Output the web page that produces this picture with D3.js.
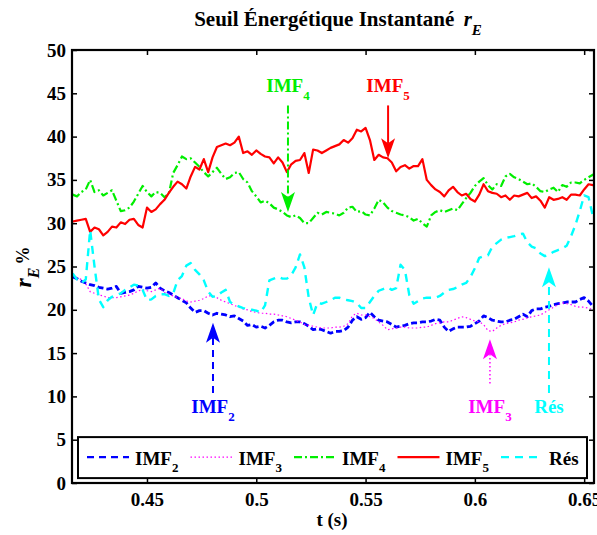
<!DOCTYPE html>
<html>
<head>
<meta charset="utf-8">
<script src="https://cdn.jsdelivr.net/npm/d3@7"></script>
<style>
  body { margin: 0; background: #fff; }
  svg { display: block; }
  text { font-family: "Liberation Serif", "Times New Roman", serif; font-weight: bold; }
</style>
</head>
<body>
<div id="chart"></div>
<script>
// Sampling instants (s)
const time = [
  0.416,0.418,0.42,0.422,0.424,0.426,0.428,0.43,0.432,0.434,
  0.436,0.438,0.44,0.442,0.444,0.446,0.448,0.45,0.452,0.454,
  0.456,0.458,0.46,0.462,0.464,0.466,0.468,0.47,0.472,0.474,
  0.476,0.478,0.48,0.482,0.484,0.486,0.488,0.49,0.492,0.494,
  0.496,0.498,0.5,0.502,0.504,0.506,0.508,0.51,0.512,0.514,
  0.516,0.518,0.52,0.522,0.524,0.526,0.528,0.53,0.532,0.534,
  0.536,0.538,0.54,0.542,0.544,0.546,0.548,0.55,0.552,0.554,
  0.556,0.558,0.56,0.562,0.564,0.566,0.568,0.57,0.572,0.574,
  0.576,0.578,0.58,0.582,0.584,0.586,0.588,0.59,0.592,0.594,
  0.596,0.598,0.6,0.602,0.604,0.606,0.608,0.61,0.612,0.614,
  0.616,0.618,0.62,0.622,0.624,0.626,0.628,0.63,0.632,0.634,
  0.636,0.638,0.64,0.642,0.644,0.646,0.648,0.65,0.652,0.654,
  0.656
];

// Instantaneous energy ratio r_E (%) per component
const imf2 = [
  23.8,23.6,23.3,23.1,22.9,22.8,22.6,22.5,22.4,22.5,
  22.7,21.9,22.0,22.1,22.3,22.7,22.6,22.5,22.6,23.1,
  22.5,22.2,22.0,21.7,21.4,21.1,20.8,20.2,19.7,19.9,
  19.9,19.6,19.4,19.6,19.5,19.4,19.2,19.3,19.0,18.7,
  18.2,18.3,18.0,18.1,17.9,18.2,18.6,18.8,18.8,18.6,
  18.5,18.6,18.6,18.4,18.1,17.7,17.8,17.7,17.5,17.3,
  17.5,17.5,17.6,18.0,18.8,19.2,18.9,19.1,19.7,19.2,
  18.8,18.7,18.6,18.3,18.0,18.1,18.2,18.4,18.5,18.5,
  18.6,18.6,18.7,18.9,18.8,18.0,17.5,17.8,18.0,18.0,
  18.0,18.1,18.4,18.7,19.3,19.1,18.8,18.7,18.6,18.6,
  18.8,18.9,19.2,19.5,19.2,19.9,20.1,20.1,20.3,20.4,
  20.6,20.7,20.8,20.9,20.9,20.9,21.2,21.4,21.0,20.4,
  20.3
];
const imf3 = [
  24.0,23.7,23.5,23.0,22.1,21.9,21.7,21.6,21.4,21.4,
  21.4,21.5,21.6,21.7,21.9,22.2,22.3,22.2,22.1,22.3,
  22.5,22.0,21.8,21.6,21.4,21.3,21.0,20.9,21.0,21.1,
  21.3,21.6,21.6,21.4,21.1,20.9,20.7,20.5,20.3,20.1,
  20.0,19.8,19.7,19.6,19.6,19.5,19.5,19.4,19.3,19.2,
  19.0,18.8,18.6,18.3,18.2,18.1,18.0,17.9,17.9,17.9,
  18.0,18.0,18.1,18.4,19.3,19.6,19.4,19.4,19.2,19.0,
  18.6,18.2,17.7,17.8,17.9,18.0,18.0,17.9,17.9,17.9,
  18.0,18.0,18.2,18.4,18.5,18.6,18.6,18.8,19.0,19.2,
  19.1,18.9,18.7,18.6,18.3,17.6,17.5,17.9,18.2,18.4,
  18.5,18.6,18.8,18.9,19.1,19.2,19.3,19.4,19.7,20.0,
  20.3,20.6,20.8,20.7,20.6,20.4,20.3,20.3,20.2,20.0,
  20.0
];
const imf4 = [
  33.3,33.1,33.6,33.9,35.0,33.6,33.8,33.2,33.5,33.8,
  32.6,31.4,31.5,31.8,32.5,33.4,34.3,33.6,33.1,33.6,
  33.5,33.0,33.4,35.8,36.7,37.7,37.4,37.5,37.0,36.5,
  35.9,35.4,35.9,36.4,35.7,35.1,35.3,35.8,35.9,35.1,
  34.7,33.7,33.1,32.4,32.6,32.3,31.8,31.6,31.3,30.9,
  30.7,30.9,30.6,30.0,30.0,30.6,31.2,31.0,31.3,31.2,
  31.1,30.9,31.2,31.8,31.9,31.3,31.4,31.0,30.9,31.7,
  32.7,32.4,31.8,31.4,31.2,31.0,30.9,30.7,30.3,30.5,
  30.0,29.6,30.9,31.3,31.5,31.3,31.5,31.7,31.5,32.2,
  32.9,33.5,34.3,34.8,35.2,34.4,33.9,34.5,34.3,35.4,
  35.7,35.3,35.1,34.8,34.5,34.6,34.2,33.7,33.6,33.9,
  34.1,33.6,34.4,34.2,34.7,34.7,34.6,35.0,35.3,35.6,
  35.6
];
const imf5 = [
  30.2,30.3,30.4,30.5,29.0,29.5,29.3,28.6,29.0,29.6,
  29.5,30.1,29.9,30.4,30.5,29.8,29.5,31.8,31.3,31.6,
  32.2,32.7,33.5,34.2,34.8,34.5,34.0,35.4,36.5,36.2,
  37.4,35.9,37.6,38.8,39.0,39.2,39.0,39.3,40.0,38.1,
  38.3,37.9,38.4,38.0,37.7,37.6,36.9,37.6,37.0,35.9,
  36.8,37.2,37.3,38.1,35.8,38.5,38.4,38.1,38.4,38.7,
  38.9,39.1,39.6,39.3,39.8,40.8,40.6,41.0,39.6,37.3,
  37.9,37.6,37.5,37.0,36.0,36.5,36.7,36.3,36.6,36.6,
  37.4,35.0,34.4,33.9,33.6,33.1,33.8,34.2,33.6,33.2,
  33.4,32.8,32.5,33.3,34.5,33.7,33.5,33.4,33.0,33.2,
  32.7,33.2,33.1,33.3,33.5,32.9,33.1,32.6,31.8,33.0,
  32.7,32.8,33.0,32.7,33.3,33.3,33.2,33.9,34.5,34.4,
  34.4
];
const residue = [
  24.2,23.5,23.1,23.5,29.2,25.0,21.2,20.3,21.1,21.5,
  21.7,21.9,22.3,22.6,22.9,22.8,22.3,21.1,21.2,21.6,
  21.8,21.8,21.6,21.9,23.4,23.9,25.1,25.4,24.6,24.1,
  23.4,22.1,21.5,21.6,22.0,22.3,20.9,20.6,20.4,20.2,
  20.1,20.0,19.9,19.7,20.5,23.4,23.6,23.8,23.6,23.6,
  24.0,24.9,26.4,24.9,21.4,19.4,20.8,20.7,20.9,21.1,
  21.4,21.4,21.2,21.1,21.0,20.8,20.2,20.2,20.9,21.6,
  22.2,22.4,22.6,22.3,22.5,25.2,24.6,21.7,20.7,21.0,
  21.3,21.4,21.4,21.4,21.6,22.0,22.3,22.4,22.6,22.9,
  23.1,23.8,24.8,26.0,26.2,26.3,27.3,27.7,28.1,28.3,
  28.4,28.5,28.7,28.8,27.8,27.3,27.1,26.5,26.2,26.4,
  26.7,26.9,27.1,27.4,28.5,29.8,31.4,33.2,33.0,30.8,
  30.3
];

// Legend / series labels: main text and subscript
const seriesLabels = ["IMF", "IMF", "IMF", "IMF", "Rés"];
const seriesSubs = ["2", "3", "4", "5", ""];

// Axis ticks
const xTicks = [0.45, 0.5, 0.55, 0.6, 0.65];
const xTickLabels = ["0.45", "0.5", "0.55", "0.6", "0.65"];
const yTicks = [0, 5, 10, 15, 20, 25, 30, 35, 40, 45, 50];
const xDomain = [0.4157, 0.6545];
const yDomain = [0, 50];

// Arrow annotations (time, tail value, tip value, label baseline value)
const noteT = [0.4802, 0.6069, 0.5145, 0.5603, 0.6339];
const noteTail = [10.4, 11.5, 43.6, 43.6, 10.4];
const noteTip = [18.5, 16.6, 31.3, 37.5, 24.9];
const noteLabelV = [8.1, 8.1, 45.1, 45.1, 8.1];

// Visual styles of the series
const styles = [
  { color: "#0000ff", width: 2.8, dash: "6,3" },
  { color: "#ff00ff", width: 1.2, dash: "1.5,2.5" },
  { color: "#00ee00", width: 2.2, dash: "8,3,2,3" },
  { color: "#ff0000", width: 2.2, dash: null },
  { color: "#00ffff", width: 2.4, dash: "8,6" }
];
const legendDash = ["7,5", "1.5,2.5", "8,3,2,3", null, "8,6"];

const seriesValues = [imf2, imf3, imf4, imf5, residue];

const W = 597, H = 535;
const margin = { left: 72, top: 50, right: 3, bottom: 52 };
const plotW = W - margin.left - margin.right;   // 522
const plotH = H - margin.top - margin.bottom;   // 433

const svg = d3.select("#chart").append("svg")
  .attr("width", W).attr("height", H)
  .attr("viewBox", `0 0 ${W} ${H}`);

const x = d3.scaleLinear().domain(xDomain).range([0, plotW]);
const y = d3.scaleLinear().domain(yDomain).range([plotH, 0]);

const g = svg.append("g").attr("transform", `translate(${margin.left},${margin.top})`);

g.append("defs").append("clipPath").attr("id", "plotClip")
  .append("rect").attr("width", plotW).attr("height", plotH);

// Curves
const line = d3.line().x((d, i) => x(time[i])).y(d => y(d));
const curves = g.append("g").attr("clip-path", "url(#plotClip)");
seriesValues.forEach((vals, i) => {
  curves.append("path")
    .datum(vals)
    .attr("d", line)
    .attr("fill", "none")
    .attr("stroke", styles[i].color)
    .attr("stroke-width", styles[i].width)
    .attr("stroke-dasharray", styles[i].dash)
    .attr("stroke-linejoin", "round");
});

// Axes (ticks pointing inward on all four sides)
const fontSize = 19;
const xAxis = g.append("g").attr("transform", `translate(0,${plotH})`)
  .call(d3.axisBottom(x).tickValues(xTicks).tickFormat((d, i) => xTickLabels[i])
    .tickSize(-5).tickPadding(10));
const yAxis = g.append("g")
  .call(d3.axisLeft(y).tickValues(yTicks).tickFormat(d3.format("d"))
    .tickSize(-5).tickPadding(6));
g.append("g").call(d3.axisTop(x).tickValues(xTicks).tickFormat("").tickSize(-5));
g.append("g").attr("transform", `translate(${plotW},0)`)
  .call(d3.axisRight(y).tickValues(yTicks).tickFormat("").tickSize(-5));

g.selectAll(".domain").remove();
g.selectAll(".tick line").attr("stroke", "#000").attr("stroke-width", 1.5);
g.selectAll(".tick text")
  .attr("fill", "#000")
  .style("font-size", fontSize + "px")
  .style("font-family", "'Liberation Serif', serif")
  .style("font-weight", "bold");
xAxis.selectAll(".tick text").attr("dy", "0.71em");

g.append("rect").attr("width", plotW).attr("height", plotH)
  .attr("fill", "none").attr("stroke", "#000").attr("stroke-width", 2.2);

// Arrow annotations
function arrowHead(px, tipY, dir) {
  // dir = +1 points downward, -1 points upward
  const len = 20, half = 7, notch = 15;
  return `M${px},${tipY} L${px - half},${tipY - dir * len} L${px},${tipY - dir * notch} L${px + half},${tipY - dir * len} Z`;
}
const noteSeries = [0, 1, 2, 3, 4];
const notes = g.append("g");
noteSeries.forEach((s, i) => {
  const px = x(noteT[i]);
  const yTail = y(noteTail[i]);
  const yTip = y(noteTip[i]);
  const dir = yTip > yTail ? 1 : -1;
  const st = styles[s];
  notes.append("line")
    .attr("x1", px).attr("x2", px)
    .attr("y1", yTail).attr("y2", yTip - dir * 15)
    .attr("stroke", st.color)
    .attr("stroke-width", s === 1 ? 1.5 : 2)
    .attr("stroke-dasharray", legendDash[s]);
  notes.append("path")
    .attr("d", arrowHead(px, yTip, dir))
    .attr("fill", st.color);
  const t = notes.append("text")
    .attr("x", px).attr("y", y(noteLabelV[i]))
    .attr("text-anchor", "middle")
    .attr("fill", st.color)
    .style("font-size", "19px");
  t.append("tspan").text(seriesLabels[s]);
  if (seriesSubs[s]) t.append("tspan").attr("dy", 8).style("font-size", "13px").text(seriesSubs[s]);
});

// Legend
const legend = g.append("g").attr("transform", `translate(6,${y(5.3)})`);
const legW = 509, legH = 41;
legend.append("rect").attr("width", legW).attr("height", legH)
  .attr("fill", "#fff").attr("stroke", "#000").attr("stroke-width", 2);
seriesValues.forEach((_, i) => {
  const ox = 9 + i * 103.5;
  const st = styles[i];
  legend.append("line")
    .attr("x1", ox).attr("x2", ox + 42)
    .attr("y1", 20).attr("y2", 20)
    .attr("stroke", st.color)
    .attr("stroke-width", Math.min(st.width, 2.2))
    .attr("stroke-dasharray", legendDash[i]);
  const t = legend.append("text")
    .attr("x", ox + 48).attr("y", 28)
    .attr("fill", "#000")
    .style("font-size", "19px");
  t.append("tspan").text(seriesLabels[i]);
  if (seriesSubs[i]) t.append("tspan").attr("dy", 7).style("font-size", "13px").text(seriesSubs[i]);
});

// Axis titles
svg.append("text")
  .attr("x", margin.left + plotW / 2 - 1).attr("y", 526)
  .attr("text-anchor", "middle")
  .style("font-size", "19px")
  .text("t (s)");

const yl = svg.append("text")
  .attr("transform", `translate(31,267) rotate(-90)`)
  .attr("text-anchor", "middle")
  .style("font-size", "24px");
yl.append("tspan").style("font-style", "italic").text("r");
yl.append("tspan").attr("dy", 8).style("font-style", "italic").style("font-size", "16px").text("E");
yl.append("tspan").attr("dy", -10).attr("dx", 3).style("font-size", "18px").text("%");

// Chart title
const title = svg.append("text")
  .attr("x", 338).attr("y", 26)
  .attr("text-anchor", "middle")
  .style("font-size", "21px");
title.append("tspan").text("Seuil Énergétique Instantané ");
title.append("tspan").attr("dx", 4).style("font-style", "italic").text("r");
title.append("tspan").attr("dy", 9).style("font-style", "italic").style("font-size", "15px").text("E");
</script>
</body>
</html>
